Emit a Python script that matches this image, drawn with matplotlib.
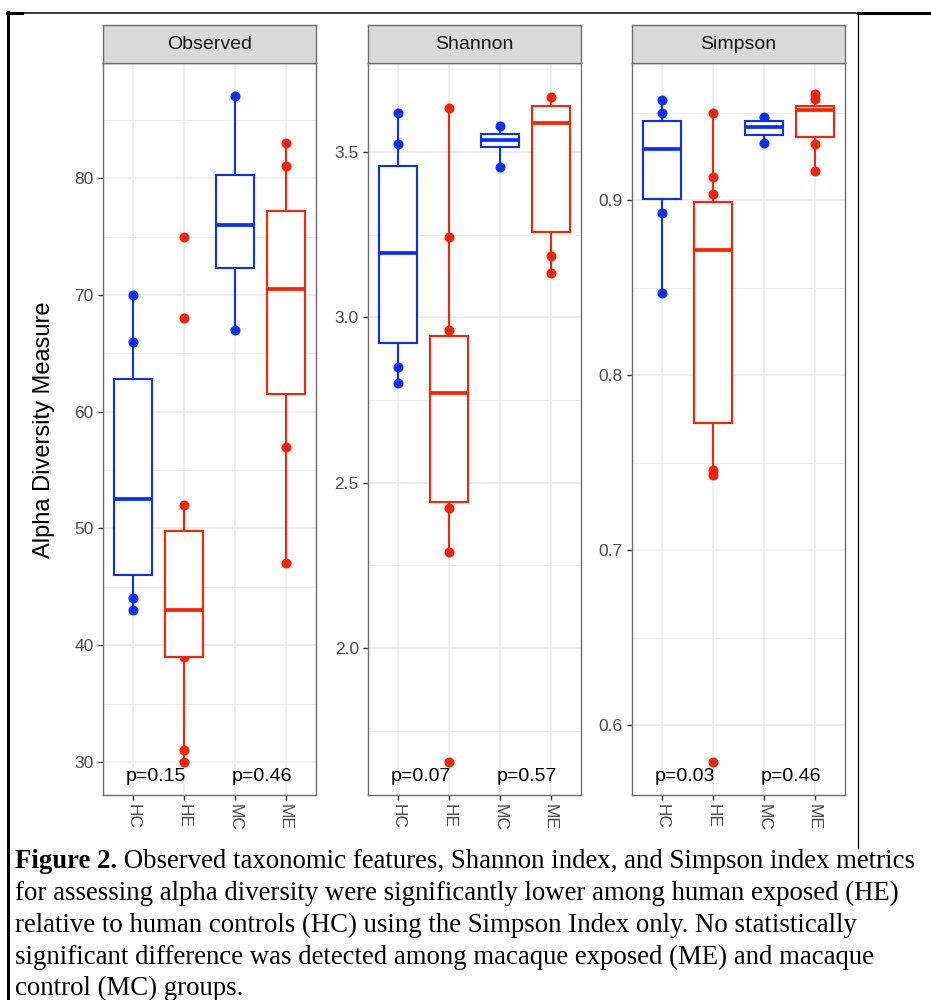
import matplotlib.pyplot as plt
from matplotlib.lines import Line2D

plt.rcParams['font.family'] = ['Liberation Sans', 'DejaVu Sans']

groups = ['HC', 'HE', 'MC', 'ME']
group_colors = ['#0A2EFF', '#FF2200', '#0A2EFF', '#FF2200']
panels = ['Observed', 'Shannon', 'Simpson']

# box stats: (whisker low, q1, median, q3, whisker high)
obs_boxes = [(43, 46.0, 52.5, 62.8, 70), (30, 39.0, 43.0, 49.8, 52),
             (67, 72.3, 76.0, 80.3, 87), (47, 61.5, 70.5, 77.2, 83)]
obs_points = [[70, 66, 44, 43], [75, 68, 52, 39, 31, 30],
              [87, 67], [83, 81, 57, 47]]

sha_boxes = [(2.80, 2.922, 3.195, 3.458, 3.618), (2.29, 2.44, 2.771, 2.944, 3.633),
             (3.455, 3.515, 3.536, 3.554, 3.579), (3.135, 3.258, 3.587, 3.639, 3.666)]
sha_points = [[3.618, 3.524, 2.85, 2.80], [3.633, 3.243, 2.962, 2.424, 2.29, 1.655],
              [3.579, 3.455], [3.666, 3.186, 3.135]]

sim_boxes = [(0.847, 0.9006, 0.929, 0.945, 0.957), (0.743, 0.7726, 0.8714, 0.899, 0.9497),
             (0.9326, 0.937, 0.9417, 0.945, 0.9474), (0.9166, 0.936, 0.9514, 0.954, 0.9606)]
sim_points = [[0.957, 0.950, 0.8926, 0.847], [0.9497, 0.913, 0.9034, 0.7457, 0.743, 0.5789],
              [0.9474, 0.9326], [0.9606, 0.9577, 0.932, 0.9166]]

p_labels = [('p=0.15', 'p=0.46'), ('p=0.07', 'p=0.57'), ('p=0.03', 'p=0.46')]

ylims = [(27.17, 89.86), (1.555, 3.769), (0.56, 0.9783)]
major_ticks = [[30, 40, 50, 60, 70, 80], [2.0, 2.5, 3.0, 3.5], [0.6, 0.7, 0.8, 0.9]]
minor_ticks = [[35, 45, 55, 65, 75, 85], [1.75, 2.25, 2.75, 3.25, 3.75],
               [0.65, 0.75, 0.85, 0.95]]
tick_fmt = ['{:.0f}', '{:.1f}', '{:.1f}']

caption_lines = [
    ' Observed taxonomic features, Shannon index, and Simpson index metrics',
    'for assessing alpha diversity were significantly lower among human exposed (HE)',
    'relative to human controls (HC) using the Simpson Index only. No statistically',
    'significant difference was detected among macaque exposed (ME) and macaque',
    'control (MC) groups.',
]


def draw_panel(ax, boxes, points, i):
    xs = [1, 2, 3, 4]
    for x, pts, c in zip(xs, points, group_colors):
        ax.plot([x] * len(pts), pts, 'o', color=c, ms=7.2, mec='none', zorder=2)
    for x, b, c in zip(xs, boxes, group_colors):
        st = {'whislo': b[0], 'q1': b[1], 'med': b[2], 'q3': b[3], 'whishi': b[4], 'fliers': []}
        ax.bxp([st], positions=[x], widths=0.75, showcaps=False, showfliers=False,
               patch_artist=True, zorder=3,
               boxprops=dict(facecolor='white', edgecolor=c, linewidth=1.5),
               whiskerprops=dict(color=c, linewidth=1.5),
               medianprops=dict(color=c, linewidth=2.7, solid_capstyle='butt'))
    ax.set_xlim(0.4, 4.6)
    ax.set_ylim(*ylims[i])
    ax.set_yticks(major_ticks[i])
    ax.set_yticklabels([tick_fmt[i].format(v) for v in major_ticks[i]])
    ax.set_yticks(minor_ticks[i], minor=True)
    ax.set_xticks(xs)
    ax.set_xticklabels(groups, rotation=-90)
    ax.grid(True, which='major', color='#EBEBEB', lw=1.1, zorder=0)
    ax.grid(True, which='minor', axis='y', color='#EBEBEB', lw=0.6, zorder=0)
    ax.set_axisbelow(True)
    ax.tick_params(which='major', length=3.6, width=1.0, color='#333333',
                   labelcolor='#4D4D4D', labelsize=12.5, pad=3)
    ax.tick_params(which='minor', length=0)
    for s in ax.spines.values():
        s.set_color('#6E6E6E')
        s.set_linewidth(1.0)
    tr = ax.get_xaxis_transform()
    ax.text(1.45, 0.0246, p_labels[i][0], transform=tr, ha='center', va='center',
            fontsize=14, color='black')
    ax.text(3.53, 0.0246, p_labels[i][1], transform=tr, ha='center', va='center',
            fontsize=14, color='black')


fig = plt.figure(figsize=(9.31, 10), dpi=100)

lefts = [103, 368, 632]
all_boxes = [obs_boxes, sha_boxes, sim_boxes]
all_points = [obs_points, sha_points, sim_points]
for i in range(3):
    l = lefts[i] / 931
    w = 213 / 931
    ax = fig.add_axes([l, 0.205, w, 0.732])
    draw_panel(ax, all_boxes[i], all_points[i], i)
    sax = fig.add_axes([l, 0.937, w, 0.038])
    sax.set_facecolor('#D9D9D9')
    sax.set_xticks([])
    sax.set_yticks([])
    for s in sax.spines.values():
        s.set_color('#6E6E6E')
        s.set_linewidth(1.0)
    sax.text(0.5, 0.48, panels[i], ha='center', va='center', fontsize=14,
             color='#1A1A1A', transform=sax.transAxes)

fig.text(44 / 931, 0.570, 'Alpha Diversity Measure', rotation=90, ha='center',
         va='center', fontsize=17, color='black')

# frame lines round the figure cell
fig.add_artist(Line2D([8 / 931, 8 / 931], [1 - 12 / 1000, 0], color='black', lw=2.2))
fig.add_artist(Line2D([7 / 931, 1], [1 - 12.5 / 1000, 1 - 12.5 / 1000], color='black', lw=1.1))
fig.add_artist(Line2D([7 / 931, 22 / 931], [1 - 12.5 / 1000, 1 - 12.5 / 1000], color='black', lw=2.2))
fig.add_artist(Line2D([858 / 931, 1], [1 - 12.5 / 1000, 1 - 12.5 / 1000], color='black', lw=2.2))
fig.add_artist(Line2D([858 / 931, 858 / 931], [1 - 13 / 1000, 1 - 848 / 1000], color='black', lw=0.9))

# caption
cap_size = 19.3
cap_y = [862, 893, 925, 957, 988]
x0 = 15 / 931
bold = fig.text(x0, 1 - cap_y[0] / 1000, 'Figure 2.', fontsize=cap_size, fontweight='bold',
                family='Liberation Serif', va='center')
fig.canvas.draw()
bb = bold.get_window_extent()
fig.text(bb.x1 / 931, 1 - cap_y[0] / 1000, caption_lines[0], fontsize=cap_size,
         family='Liberation Serif', va='center')
for k in range(1, 5):
    fig.text(x0, 1 - cap_y[k] / 1000, caption_lines[k], fontsize=cap_size,
             family='Liberation Serif', va='center')

fig.savefig('out.png', dpi=100)
